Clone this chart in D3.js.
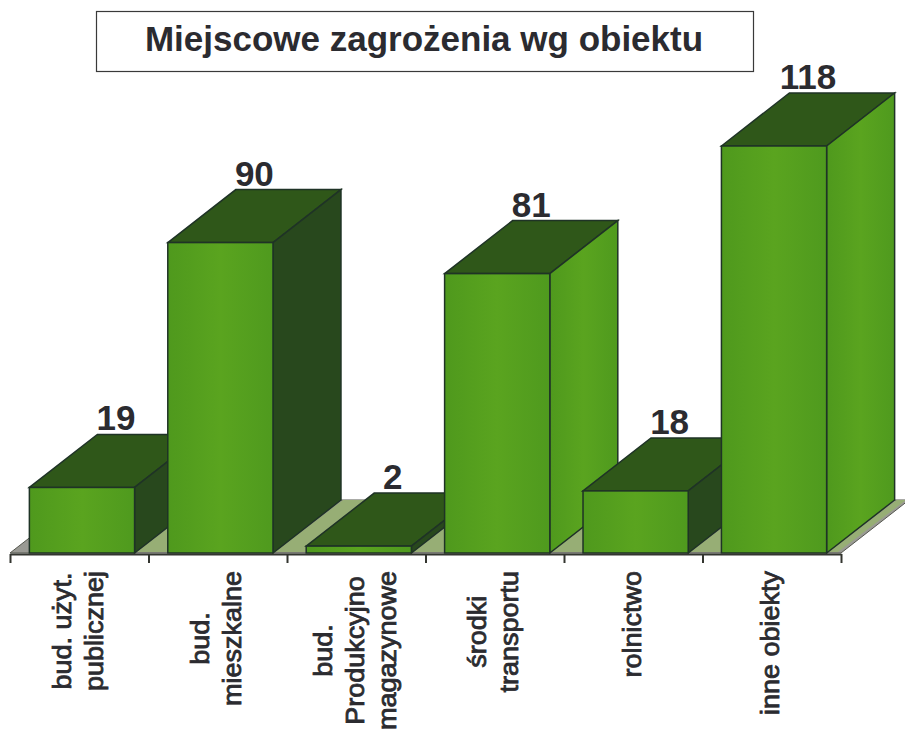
<!DOCTYPE html>
<html>
<head>
<meta charset="utf-8">
<script src="https://cdn.jsdelivr.net/npm/d3@7"></script>
<style>
  html, body { margin: 0; background: #fff; }
  svg { display: block; }
  text { font-family: "Liberation Sans", Arial, sans-serif; fill: #2b2b30; }
</style>
</head>
<body>
<svg id="chart" width="905" height="733"></svg>
<script>
// ------------ DATA -----------------

const chartTitle = "Miejscowe zagrożenia wg obiektu";
const categories = ["publiczne", "mieszkalne", "magazynowe", "transport", "rolnictwo", "inne"];
const values = [19, 90, 2, 81, 18, 118];
const tickLabels = [
  ["bud. użyt.", "publicznej"],
  ["bud.", "mieszkalne"],
  ["bud.", "Produkcyjno", "magazynowe"],
  ["środki", "transportu"],
  ["rolnictwo"],
  ["inne obiekty"],
];

// ------------ SETUP -----------------

const svg = d3.select("#chart");
const baseY = 553;
const depthX = 68;
const depthY = 53;
const lineGap = 32;

const x = d3.scaleBand()
  .domain(categories)
  .range([10, 846])
  .paddingInner(0.24)
  .paddingOuter(0.14);

const y = d3.scaleLinear().domain([0, 118]).range([baseY, 146]);

// tick marks sit between the bars
const tickScale = d3.scaleLinear().domain([0, 6]).range([10, 841]);

const polygon = pts => "M" + pts.map(p => p.join(",")).join("L") + "Z";

// the scan has a bright or a dark side wall depending on the bar
const sideColor = (d, i) => (i === 3 || i === 5) ? "url(#frontFill)" : "#28481d";

const defs = svg.append("defs");
const grad = defs.append("linearGradient").attr("id", "frontFill");
grad.append("stop").attr("offset", "0").attr("stop-color", "#4f991d");
grad.append("stop").attr("offset", "0.5").attr("stop-color", "#5aa41f");
grad.append("stop").attr("offset", "1").attr("stop-color", "#4f9a1e");

// ------------ FLOOR -----------------

svg.append("path")
  .attr("d", polygon([[10, baseY], [10 + depthX, baseY - depthY], [841 + depthX, baseY - depthY], [841, baseY]]))
  .attr("fill", "#9a9a94")
  .attr("stroke", "#55574f");

// lit floor strips next to each bar
svg.append("g").selectAll("path")
  .data(categories)
  .join("path")
  .attr("d", d => {
    const left = x(d) + x.bandwidth() + 2;
    const w = Math.min(30, 838 - left);
    return polygon([[left, baseY - 1], [left + depthX, baseY - depthY], [left + depthX + w, baseY - depthY], [left + w, baseY - 1]]);
  })
  .attr("fill", "#97ae75");

// ------------ BARS -----------------

const barStroke = "#1f3326";

const bars = svg.append("g").selectAll("g")
  .data(categories)
  .join("g");

// top face
bars.append("path")
  .attr("d", (d, i) => {
    const l = x(d), r = l + x.bandwidth(), t = y(values[i]);
    return polygon([[l, t], [l + depthX, t - depthY], [r + depthX, t - depthY], [r, t]]);
  })
  .attr("fill", "#2f5719")
  .attr("stroke", barStroke)
  .attr("stroke-width", 1.5);

// side face
bars.append("path")
  .attr("d", (d, i) => {
    const r = x(d) + x.bandwidth(), t = y(values[i]);
    return polygon([[r, t], [r + depthX, t - depthY], [r + depthX, baseY - depthY], [r, baseY]]);
  })
  .attr("fill", sideColor)
  .attr("stroke", barStroke)
  .attr("stroke-width", 1.5);

// front face
bars.append("rect")
  .attr("x", d => x(d))
  .attr("y", (d, i) => y(values[i]))
  .attr("width", x.bandwidth())
  .attr("height", (d, i) => baseY - y(values[i]))
  .attr("fill", "url(#frontFill)")
  .attr("stroke", barStroke)
  .attr("stroke-width", 1.5);

// value labels
svg.append("g").selectAll("text")
  .data(categories)
  .join("text")
  .attr("x", d => x(d) + x.bandwidth() / 2 + depthX / 2)
  .attr("y", (d, i) => y(values[i]) - depthY - 4)
  .attr("text-anchor", "middle")
  .attr("font-size", 35)
  .attr("font-weight", "bold")
  .text((d, i) => values[i]);

// ------------ AXIS -----------------

const axis = svg.append("g")
  .attr("transform", `translate(0,${baseY + 1})`)
  .call(d3.axisBottom(tickScale).tickValues(d3.range(7)).tickFormat("").tickSize(9).tickSizeOuter(0));
axis.selectAll("path, line").attr("stroke", "#33352f").attr("stroke-width", 2);

// rotated labels, longest line starts at the same height under the axis
const labelTop = 571;
const labelStretch = 1.08;
const labels = svg.append("g").selectAll("g")
  .data(categories)
  .join("g");

labels.each(function (d, i) {
  const lines = tickLabels[i];
  const cx = x(d) + x.bandwidth() / 2 + 5;
  const group = d3.select(this);
  const texts = group.selectAll("text")
    .data(lines)
    .join("text")
    .attr("text-anchor", "middle")
    .attr("font-size", 25)
    .attr("stroke", "#2b2b30")
    .attr("stroke-width", 0.8)
    .text(t => t);
  const widest = d3.max(texts.nodes(), n => n.getComputedTextLength()) * labelStretch;
  const cy = labelTop + widest / 2;
  texts.attr("transform", (t, j) => {
    const bx = cx + (j - (lines.length - 1) / 2) * lineGap;
    return `translate(${bx},${cy}) rotate(-90) scale(${labelStretch},1)`;
  });
});

// ------------ TITLE -----------------

svg.append("rect")
  .attr("x", 96.5)
  .attr("y", 11.5)
  .attr("width", 657)
  .attr("height", 60)
  .attr("fill", "#fff")
  .attr("stroke", "#3a3a3a")
  .attr("stroke-width", 1.2);

svg.append("text")
  .attr("x", 424)
  .attr("y", 51)
  .attr("text-anchor", "middle")
  .attr("font-size", 35)
  .attr("font-weight", "bold")
  .text(chartTitle);
</script>
</body>
</html>
